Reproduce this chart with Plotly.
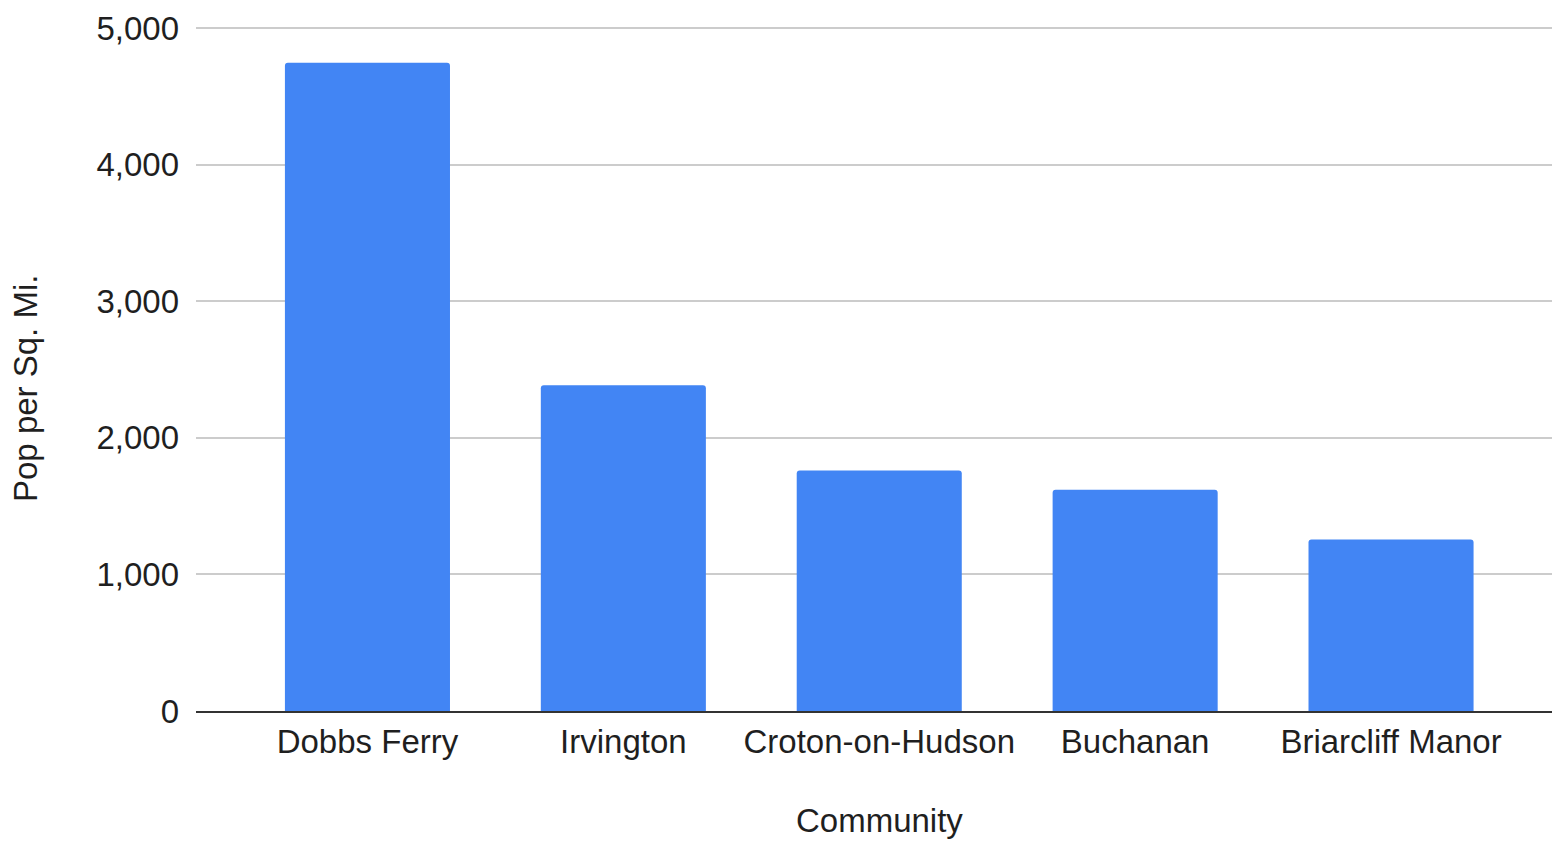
import plotly.graph_objects as go

communities = ["Dobbs Ferry", "Irvington", "Croton-on-Hudson", "Buchanan", "Briarcliff Manor"]
pop_per_sq_mi = [4745, 2385, 1760, 1620, 1255]
y_tick_vals = [0, 1000, 2000, 3000, 4000, 5000]
y_tick_text = ["0", "1,000", "2,000", "3,000", "4,000", "5,000"]
x_title = "Community"
y_title = "Pop per Sq. Mi."

FONT = "Liberation Sans, Arial, Helvetica, sans-serif"
TXT = "#1f1f1f"

fig = go.Figure(
    go.Bar(
        x=communities,
        y=pop_per_sq_mi,
        marker=dict(color="#4285F4", cornerradius=3, line=dict(width=0)),
        width=0.645,
        hoverinfo="x+y",
    )
)

TOP = 20
PLOT_H = 711 - TOP

fig.update_layout(
    width=1552,
    height=842,
    margin=dict(l=196, r=0, t=TOP, b=131, autoexpand=False),
    paper_bgcolor="white",
    plot_bgcolor="white",
    showlegend=False,
    font=dict(family=FONT, size=33, color=TXT),
    xaxis=dict(
        type="category",
        range=[-0.67, 4.629],
        showgrid=False,
        showline=True,
        linecolor="#333333",
        linewidth=2,
        ticks="",
        ticklabelstandoff=0,
        tickfont=dict(family=FONT, size=33, color=TXT),
        automargin=False,
        fixedrange=True,
    ),
    yaxis=dict(
        range=[0, 5058.6],
        tickvals=y_tick_vals,
        ticktext=y_tick_text,
        showgrid=True,
        gridcolor="#cccccc",
        gridwidth=2,
        zeroline=False,
        showline=False,
        ticks="",
        ticklabelstandoff=16,
        tickfont=dict(family=FONT, size=33, color=TXT),
        automargin=False,
        fixedrange=True,
    ),
    annotations=[
        dict(
            text=x_title, xref="paper", yref="paper",
            x=(879 - 196) / 1356, y=-(820 - 711) / PLOT_H,
            xanchor="center", yanchor="middle", showarrow=False,
            font=dict(family=FONT, size=33, color=TXT),
        ),
        dict(
            text=y_title, xref="paper", yref="paper",
            x=-(196 - 26) / 1356, y=(711 - 389) / PLOT_H,
            xanchor="center", yanchor="middle", showarrow=False, textangle=-90,
            font=dict(family=FONT, size=33, color=TXT),
        ),
    ],
)

fig.write_html("out.html", config={"displayModeBar": False})
